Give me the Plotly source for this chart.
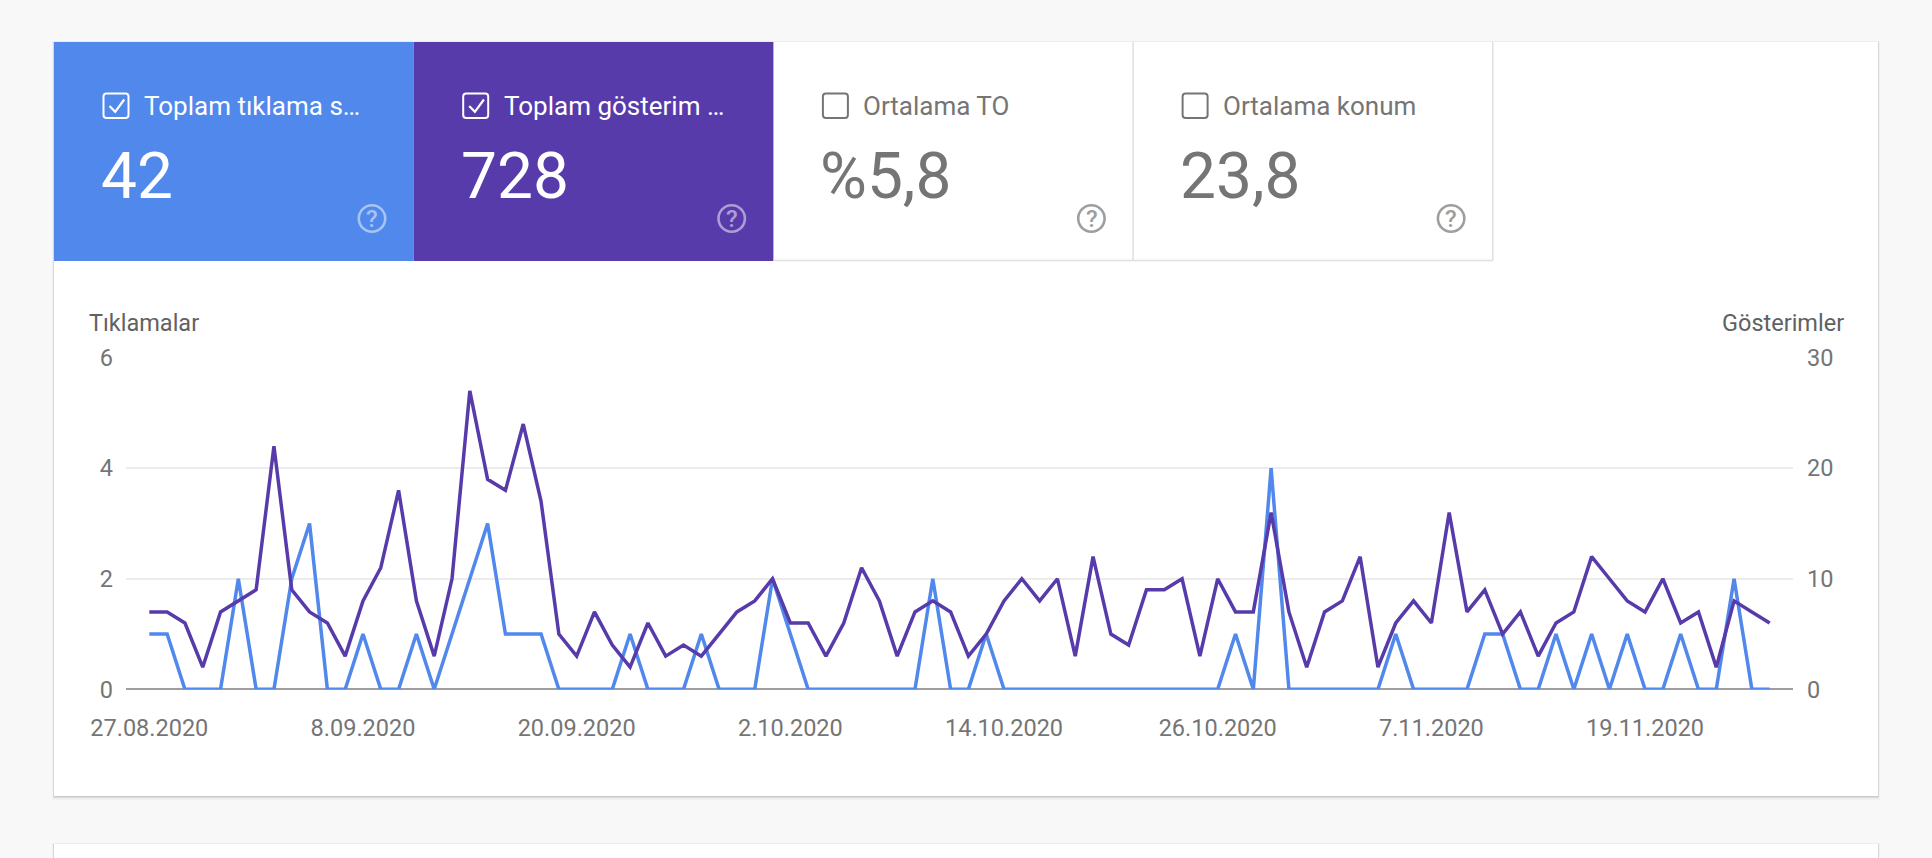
import pandas as pd
import plotly.graph_objects as go

# ---------------- data ----------------
start_date = "2020-08-27"
clicks = [1, 1, 0, 0, 0, 2, 0, 0, 2, 3, 0, 0, 1, 0, 0, 1, 0, 1, 2, 3, 1, 1, 1,
          0, 0, 0, 0, 1, 0, 0, 0, 1, 0, 0, 0, 2, 1, 0, 0, 0, 0, 0, 0, 0, 2, 0, 0, 1, 0,
          0, 0, 0, 0, 0, 0, 0, 0, 0, 0, 0, 0, 1, 0, 4, 0, 0, 0, 0, 0, 0, 1, 0, 0, 0,
          0, 1, 1, 0, 0, 1, 0, 1, 0, 1, 0, 0, 1, 0, 0, 2, 0, 0]
impressions = [7, 7, 6, 2, 7, 8, 9, 22, 9, 7, 6, 3, 8, 11, 18, 8, 3, 10, 27, 19, 18, 24, 17,
               5, 3, 7, 4, 2, 6, 3, 4, 3, 5, 7, 8, 10, 6, 6, 3, 6, 11, 8, 3, 7, 8, 7, 3, 5, 8,
               10, 8, 10, 3, 12, 5, 4, 9, 9, 10, 3, 10, 7, 7, 16, 7, 2, 7, 8, 12, 2, 6, 8, 6, 16,
               7, 9, 5, 7, 3, 6, 7, 12, 10, 8, 7, 10, 6, 7, 2, 8, 7, 6]
dates = pd.date_range(start_date, periods=len(clicks), freq="D")

tick_dates = ["2020-08-27", "2020-09-08", "2020-09-20", "2020-10-02",
              "2020-10-14", "2020-10-26", "2020-11-07", "2020-11-19"]
tick_text = ["27.08.2020", "8.09.2020", "20.09.2020", "2.10.2020",
             "14.10.2020", "26.10.2020", "7.11.2020", "19.11.2020"]
left_ticks = [0, 2, 4, 6]
right_ticks = [0, 10, 20, 30]

tile_labels = ["Toplam tıklama s…", "Toplam gösterim …", "Ortalama TO", "Ortalama konum"]
tile_values = ["42", "728", "%5,8", "23,8"]
tile_checked = [True, True, False, False]

left_title = "Tıklamalar"
right_title = "Gösterimler"

# ---------------- styling ----------------
W, H = 1932, 858
BLUE = "#5088ec"
PURPLE = "#583bab"
BG = "#f8f8f8"
FONT = "Roboto"


def px(x):
    return x / W


def py(y):
    return 1 - y / H


shapes = []
annotations = []


def rect(x0, y0, x1, y1, fill=None, line=None, lw=0, layer="below"):
    shapes.append(dict(type="rect", xref="paper", yref="paper",
                       x0=px(x0), x1=px(x1), y0=py(y1), y1=py(y0),
                       fillcolor=fill or "rgba(0,0,0,0)",
                       line=dict(color=line or "rgba(0,0,0,0)", width=lw),
                       layer=layer))


def pline(pts, color, lw, layer="below"):
    d = "M " + " L ".join(f"{px(x):.6f},{py(y):.6f}" for x, y in pts)
    shapes.append(dict(type="path", xref="paper", yref="paper", path=d,
                       line=dict(color=color, width=lw), layer=layer))


def card(x0, y0, x1, y1):
    # soft shadow
    rect(x0 - 2, y0 - 1, x1 + 2, y1 + 4, fill="rgba(0,0,0,0.025)")
    rect(x0 - 1, y0 - 0.5, x1 + 1, y1 + 2.5, fill="rgba(0,0,0,0.05)")
    rect(x0 - 0.5, y0, x1 + 0.5, y1 + 1.2, fill="rgba(0,0,0,0.12)")
    rect(x0, y0, x1, y1, fill="white")


card(54, 42, 1878, 796)
card(54, 844, 1878, 900)

# tiles
tile_w = 359.7
tile_left = [54 + i * tile_w for i in range(4)]
tile_top, tile_bot = 42, 261

for i, L in enumerate(tile_left):
    checked = tile_checked[i]
    if i == 0:
        rect(L, tile_top, L + tile_w, tile_bot, fill=BLUE)
    elif i == 1:
        rect(L, tile_top, L + tile_w, tile_bot, fill=PURPLE)
    else:
        pline([(L + tile_w, tile_top), (L + tile_w, tile_bot - 0.5)], "#e0e0e0", 1.5)
        pline([(L, tile_bot - 0.5), (L + tile_w, tile_bot - 0.5)], "#e0e0e0", 1.5)
    fg = "white" if checked else "#757575"
    help_c = "rgba(255,255,255,0.5)" if checked else "#9e9e9e"
    # checkbox with rounded corners
    bx0, by0, bx1, by1, r = L + 49.5, 93.5, L + 74.5, 118, 3
    d = (f"M {px(bx0 + r)},{py(by0)} L {px(bx1 - r)},{py(by0)} "
         f"Q {px(bx1)},{py(by0)} {px(bx1)},{py(by0 + r)} L {px(bx1)},{py(by1 - r)} "
         f"Q {px(bx1)},{py(by1)} {px(bx1 - r)},{py(by1)} L {px(bx0 + r)},{py(by1)} "
         f"Q {px(bx0)},{py(by1)} {px(bx0)},{py(by1 - r)} L {px(bx0)},{py(by0 + r)} "
         f"Q {px(bx0)},{py(by0)} {px(bx0 + r)},{py(by0)} Z")
    shapes.append(dict(type="path", xref="paper", yref="paper", path=d,
                       line=dict(color=fg, width=2), layer="above"))
    if checked:
        pline([(L + 55.5, 106), (L + 61.2, 111.8), (L + 70.2, 99.5)], "white", 2.2, layer="above")
    annotations.append(dict(xref="paper", yref="paper", x=px(L + 88), y=py(105.5),
                            xanchor="left", yanchor="middle", showarrow=False,
                            text=tile_labels[i],
                            font=dict(family=FONT, size=26, color=fg)))
    annotations.append(dict(xref="paper", yref="paper", x=px(L + 45), y=py(177),
                            xanchor="left", yanchor="middle", showarrow=False,
                            text=tile_values[i],
                            font=dict(family=FONT, size=64, color=fg)))
    # help icon
    cx, cy, cr = L + 318, 218.5, 13.2
    shapes.append(dict(type="circle", xref="paper", yref="paper",
                       x0=px(cx - cr), x1=px(cx + cr), y0=py(cy + cr), y1=py(cy - cr),
                       line=dict(color=help_c, width=2.6), layer="above"))
    annotations.append(dict(xref="paper", yref="paper", x=px(cx + 0.3), y=py(cy + 0.5),
                            xanchor="center", yanchor="middle", showarrow=False,
                            text="?", font=dict(family=FONT, size=24, color=help_c,
                                                weight=500)))

# axis titles
annotations.append(dict(xref="paper", yref="paper", x=px(87), y=py(323),
                        xanchor="left", yanchor="middle", showarrow=False,
                        text=left_title, font=dict(family=FONT, size=23.5, color="#616161")))
annotations.append(dict(xref="paper", yref="paper", x=px(1846), y=py(323),
                        xanchor="right", yanchor="middle", showarrow=False,
                        text=right_title, font=dict(family=FONT, size=23.5, color="#616161")))

# ---------------- traces ----------------
fig = go.Figure()
fig.add_trace(go.Scatter(x=dates, y=impressions, mode="lines", name="Gösterimler",
                         yaxis="y2", line=dict(color=PURPLE, width=3.5)))
fig.add_trace(go.Scatter(x=dates, y=clicks, mode="lines", name="Tıklamalar",
                         yaxis="y", line=dict(color=BLUE, width=3.5)))

x_dom = [px(126), px(1793)]
y_dom = [py(689.3), py(357.7)]

fig.update_layout(
    width=W, height=H,
    margin=dict(l=0, r=0, t=0, b=0, pad=0),
    paper_bgcolor=BG,
    plot_bgcolor="rgba(0,0,0,0)",
    showlegend=False,
    font=dict(family=FONT, color="#757575"),
    shapes=shapes,
    annotations=annotations,
    xaxis=dict(domain=x_dom, type="date", automargin=False,
               range=["2020-08-25 16:35", "2020-11-27 07:25"],
               tickvals=tick_dates, ticktext=tick_text,
               showgrid=False, zeroline=False, showline=False, ticks="",
               ticklabelstandoff=22,
               tickfont=dict(family=FONT, size=23.5, color="#757575")),
    yaxis=dict(domain=y_dom, range=[0, 6], tickvals=left_ticks, automargin=False,
               showgrid=True, gridcolor="#ececec", gridwidth=2,
               zeroline=True, zerolinecolor="#9e9e9e", zerolinewidth=2,
               showline=False, ticks="", ticklabelstandoff=12,
               tickfont=dict(family=FONT, size=23.5, color="#757575")),
    yaxis2=dict(domain=y_dom, range=[0, 30], tickvals=right_ticks, automargin=False,
                overlaying="y", side="right", anchor="x",
                showgrid=False, zeroline=False, showline=False, ticks="",
                ticklabelstandoff=13,
                tickfont=dict(family=FONT, size=23.5, color="#757575")),
)

fig.write_html("out.html", config={"displayModeBar": False},
               post_script="document.body.style.margin='0';document.body.style.overflow='hidden';")
